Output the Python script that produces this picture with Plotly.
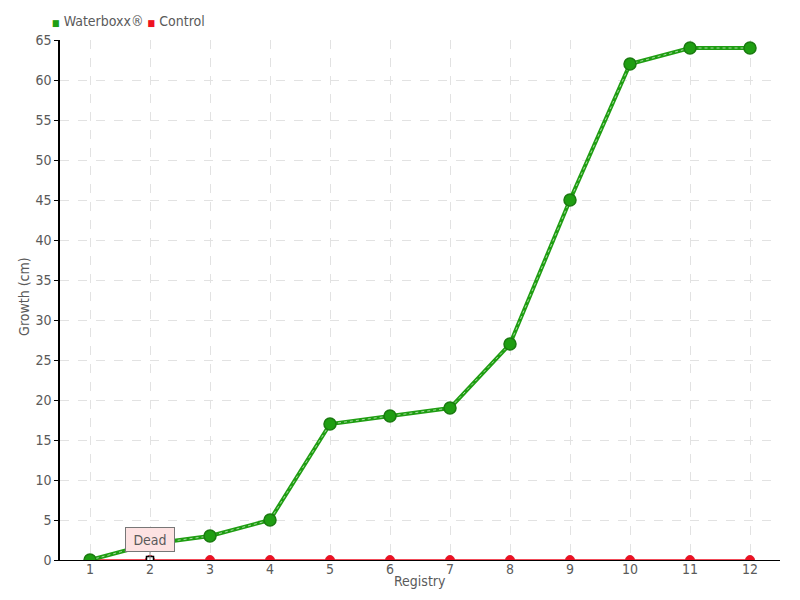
import plotly.graph_objects as go

registry = [1, 2, 3, 4, 5, 6, 7, 8, 9, 10, 11, 12]
waterboxx = [0, 2, 3, 5, 17, 18, 19, 27, 45, 62, 64, 64]
control = [0, 0, 0, 0, 0, 0, 0, 0, 0, 0, 0, 0]
y_ticks = list(range(0, 70, 5))

FONT = "DejaVu Sans Condensed"
GREEN = "#1f9e12"
RED = "#ee1122"
TXT = "#5a5a5a"

fig = go.Figure()
fig.add_trace(go.Scatter(
    x=registry, y=control, name="Control", mode="lines+markers",
    line=dict(color=RED, width=1.5),
    marker=dict(color=RED, size=9, line=dict(color="#dd2233", width=1)),
    showlegend=False,
))
fig.add_trace(go.Scatter(
    x=registry, y=waterboxx, name="Waterboxx®", mode="lines",
    line=dict(color=GREEN, width=4), showlegend=False, hoverinfo="skip",
))
fig.add_trace(go.Scatter(
    x=registry, y=waterboxx, name="Waterboxx®", mode="lines+markers",
    line=dict(color="rgba(255,255,255,0.6)", width=1, dash="dot"),
    marker=dict(color=GREEN, size=12, line=dict(color="#1a7a10", width=1.5)),
    showlegend=False,
))
fig.add_trace(go.Scatter(
    x=[registry[1]], y=[control[1]], mode="markers", showlegend=False,
    marker=dict(symbol="square", color="white", size=7, line=dict(color="black", width=1.5)),
))

# Legend as annotations
fig.add_annotation(
    xref="paper", yref="paper", x=-0.014, y=1.0365, xanchor="left", yanchor="middle",
    showarrow=False, align="left",
    text=(f'<span style="color:{GREEN};font-size:9px">■</span> Waterboxx® '
          f'<span style="color:{RED};font-size:9px">■</span> Control'),
    font=dict(family=FONT, size=14, color=TXT),
)

# Axis titles
fig.add_annotation(
    xref="paper", yref="paper", x=-0.05, y=0.506, xanchor="center", yanchor="middle",
    showarrow=False, textangle=-90, text="Growth (cm)",
    font=dict(family=FONT, size=14, color=TXT),
)
fig.add_annotation(
    xref="paper", yref="paper", x=0.5, y=-0.0404, xanchor="center", yanchor="middle",
    showarrow=False, text="Registry",
    font=dict(family=FONT, size=14, color=TXT),
)

fig.add_annotation(
    x=registry[1], y=control[1], text="Dead", showarrow=True,
    arrowhead=0, arrowwidth=1, arrowcolor="#888888",
    ax=0, ay=-21, bgcolor="#fde2e2", bordercolor="#777777", borderwidth=1,
    width=46, height=21,
    font=dict(family=FONT, size=14, color=TXT),
)

fig.update_layout(
    width=800, height=600,
    margin=dict(l=52, r=28, t=32, b=48, autoexpand=False),
    paper_bgcolor="white", plot_bgcolor="white",
    font=dict(family=FONT, size=14, color=TXT),
    showlegend=False,
    xaxis=dict(
        range=[0.5, 12.5], tickmode="array", tickvals=registry,
        ticktext=[str(r) for r in registry],
        showgrid=True, gridcolor="#e2e2e2", griddash="dash", gridwidth=1,
        showline=True, linecolor="black", linewidth=1,
        ticks="outside", ticklen=0, zeroline=False,
        ticklabelstandoff=-4,
        tickfont=dict(size=14),
    ),
    yaxis=dict(
        range=[0, 65], tickmode="array", tickvals=y_ticks,
        showgrid=True, gridcolor="#e2e2e2", griddash="dash", gridwidth=1,
        showline=True, linecolor="black", linewidth=1.5,
        ticks="outside", ticklen=4, tickcolor="black", zeroline=False,
        tickfont=dict(size=14),
    ),
)

fig.write_html("out.html")
